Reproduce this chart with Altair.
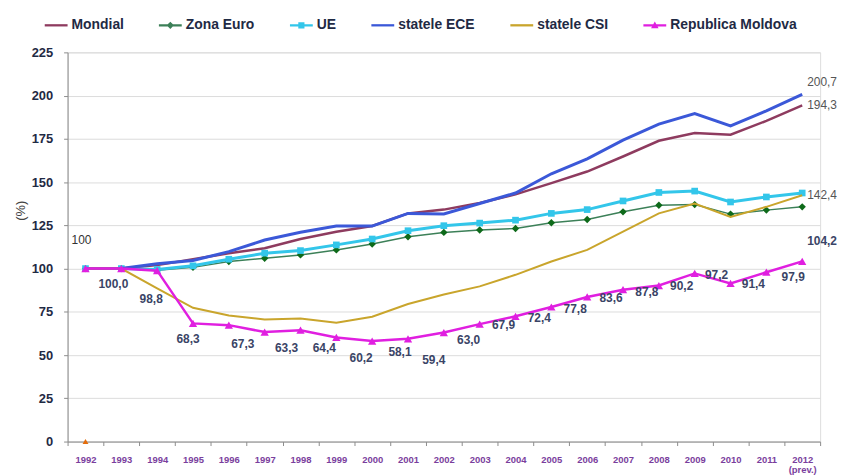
import altair as alt
import pandas as pd

years = [str(y) for y in range(1992, 2013)]
series_names = ["Mondial", "Zona Euro", "UE", "statele ECE", "statele CSI", "Republica Moldova"]
line_colors = ["#8E3B5F", "#3C8058", "#33C6EA", "#3B58D8", "#C9A52C", "#E01FE0"]

mondial = [100, 100, 102.0, 105.4, 108.9, 111.8, 117.1, 121.3, 124.6, 131.9, 134.1, 137.9,
           142.9, 149.4, 156.1, 164.8, 173.9, 178.4, 177.4, 185.4, 194.3]
zona_euro = [100, 100, 99.0, 100.7, 104.1, 106.0, 107.9, 110.8, 114.2, 118.4, 120.9, 122.3,
             123.2, 126.5, 128.4, 132.8, 136.6, 137.0, 131.5, 133.8, 135.7]
ue = [100, 100, 99.5, 101.6, 105.4, 108.9, 110.4, 113.7, 117.1, 121.9, 124.8, 126.3,
      128.0, 131.9, 134.1, 139.1, 144.0, 144.8, 138.5, 141.4, 143.7]
ece = [100, 100, 102.8, 104.7, 109.8, 116.5, 121.0, 124.6, 124.6, 131.9, 131.6, 137.6,
       143.7, 154.8, 163.4, 174.3, 183.5, 189.6, 182.5, 191.2, 200.7]
csi = [100, 100, 88.5, 77.3, 72.9, 70.6, 71.2, 68.7, 72.2, 79.5, 85.0, 89.7,
       96.4, 104.1, 110.8, 121.3, 131.9, 137.6, 129.9, 135.7, 142.4]
moldova = [100, 100.0, 98.8, 68.3, 67.3, 63.3, 64.4, 60.2, 58.1, 59.4, 63.0, 67.9,
           72.4, 77.8, 83.6, 87.8, 90.2, 97.2, 91.4, 97.9, 104.2]
stray_year = ["1992"]
stray_value = [0]

# label nudges (pixels) for the Moldova value labels, as placed in the original
label_dx = [-4, -8, -6, -5, 14, 22, 24, 25, 28, 26, 25, 24, 24, 24, 24, 24, 23, 22, 23, 27, 20]
label_dy = [-29, 16, 29, 16, 19, 16, 18, 21, 11, 21, 8, 1, 2, 2, 1, 2, 1, 2, 1, 5, -20]

all_values = [mondial, zona_euro, ue, ece, csi, moldova]
rows = []
for name, vals in zip(series_names, all_values):
    for y, v in zip(years, vals):
        rows.append({"year": y, "series": name, "value": v})
df = pd.DataFrame(rows)

mold = pd.DataFrame({"year": years, "value": moldova})
mold["label"] = [f"{v:.1f}".replace(".", ",") for v in moldova]
mold.loc[0, "label"] = "100"

stray = pd.DataFrame({"year": stray_year, "value": stray_value})

FONT = "Liberation Sans"

x_enc = alt.X(
    "year:O",
    sort=years,
    scale=alt.Scale(type="band", domain=years, paddingInner=0, paddingOuter=0),
    bandPosition=0.5,
    axis=alt.Axis(
        title=None, labelAngle=0, tickBand="extent", tickSize=4, labelPadding=9,
        labelFont=FONT, labelFontSize=9.5, labelFontWeight="bold", labelColor="#7A3E9D",
        labelExpr="datum.value == '2012' ? ['2012', '(prev.)'] : datum.label",
        labelLineHeight=10, domainColor="#8C8C8C", tickColor="#8C8C8C", grid=False,
    ),
)
y_enc = alt.Y(
    "value:Q",
    scale=alt.Scale(domain=[0, 225], nice=False, zero=True),
    axis=alt.Axis(
        values=list(range(0, 226, 25)), title="(%)", tickSize=4, labelPadding=11,
        labelFont=FONT, labelFontSize=13, labelFontWeight="bold", labelColor="#1F2A44",
        titleFont=FONT, titleFontSize=13, titleFontWeight="normal", titleColor="#444444",
        titleAngle=-90, titleX=-47, titleY=159, titleAlign="center", titleBaseline="middle",
        gridColor="#DCDCDC", domainColor="#8C8C8C", tickColor="#8C8C8C",
    ),
)

base = alt.Chart(df)
layers = []

widths = {"Mondial": 2.5, "Zona Euro": 1.5, "UE": 3, "statele ECE": 3,
          "statele CSI": 2, "Republica Moldova": 2.5}
markers = {"Zona Euro": ("diamond", "#0E6A1A", 55),
           "UE": ("square", "#33C6EA", 45),
           "Republica Moldova": ("triangle-up", "#E01FE0", 70)}

for name, col in zip(series_names, line_colors):
    sub = base.transform_filter(alt.datum.series == name)
    layers.append(sub.mark_line(strokeWidth=widths[name], color=col).encode(x=x_enc, y=y_enc))
    if name in markers:
        shp, mcol, msize = markers[name]
        layers.append(sub.mark_point(shape=shp, filled=True, size=msize, color=mcol, opacity=1)
                      .encode(x=x_enc, y=y_enc))

# stray orange marker at 1992 / 0
layers.append(alt.Chart(stray).mark_point(shape="triangle-up", filled=True, size=35,
                                          color="#E46C0A", opacity=1).encode(x=x_enc, y=y_enc))

# Moldova value labels
mchart = alt.Chart(mold)
for i, yr in enumerate(years):
    weight = "normal" if i == 0 else "bold"
    colr = "#333333" if i == 0 else "#3A4466"
    layers.append(
        mchart.transform_filter(alt.datum.year == yr)
        .mark_text(font=FONT, fontSize=12, fontWeight=weight, color=colr,
                   dx=label_dx[i], dy=label_dy[i], align="center", baseline="middle")
        .encode(x=x_enc, y=y_enc, text="label:N")
    )

# end labels for the other series
end_labels = [("statele ECE", "200,7", -12), ("Mondial", "194,3", 0), ("statele CSI", "142,4", 0)]
for name, txt, ddy in end_labels:
    layers.append(
        base.transform_filter((alt.datum.series == name) & (alt.datum.year == "2012"))
        .mark_text(font=FONT, fontSize=12, color="#555555", align="left", baseline="middle",
                   dx=5, dy=ddy, text=txt)
        .encode(x=x_enc, y=y_enc)
    )

# legend layer (no visible marks)
bar = "M-1,-0.1H1V0.1H-1Z"
legend_shapes = [
    bar,
    bar + " M0,-0.32L0.32,0L0,0.32L-0.32,0Z",
    bar + " M-0.27,-0.27H0.27V0.27H-0.27Z",
    bar,
    bar,
    bar + " M0,-0.34L0.33,0.26H-0.33Z",
]
leg = alt.Legend(
    orient="none", legendX=-23, legendY=-39, direction="horizontal", title=None,
    labelFont=FONT, labelFontSize=14, labelFontWeight="bold", labelColor="#1F2A44",
    symbolSize=529, symbolStrokeWidth=0, columnPadding=35, labelOffset=4, padding=0,
    labelLimit=300,
)
layers.append(
    base.transform_filter("false")
    .mark_point(filled=True, size=529, opacity=1)
    .encode(
        color=alt.Color("series:N", scale=alt.Scale(domain=series_names, range=line_colors), legend=leg),
        shape=alt.Shape("series:N", scale=alt.Scale(domain=series_names, range=legend_shapes), legend=leg),
    )
)

chart = (
    alt.layer(*layers)
    .properties(width=758, height=392, autosize=alt.AutoSizeParams(type="none"),
                padding={"left": 60, "top": 43, "right": 17, "bottom": 32})
    .configure_view(stroke="#BFBFBF", strokeWidth=1)
    .configure(background="white")
)

chart.save("out.html", embed_options={"renderer": "svg", "actions": False})
